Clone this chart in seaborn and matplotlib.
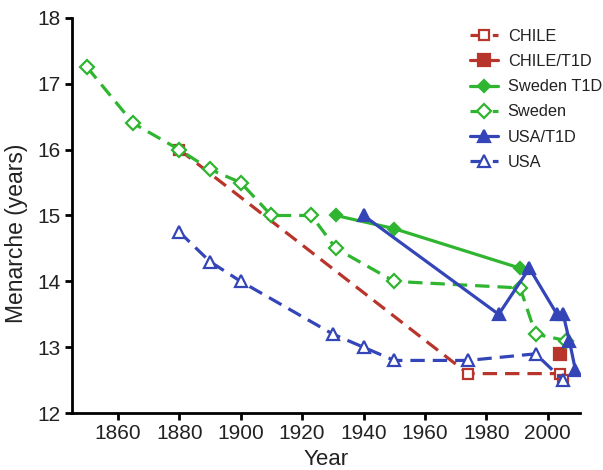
import matplotlib
matplotlib.use("Agg")
import matplotlib.pyplot as plt
import pandas as pd
import seaborn as sns

# data
chile_year = [1880, 1974, 2004, 2005]
chile_age = [16.0, 12.6, 12.6, 12.5]

chile_t1d_year = [2004]
chile_t1d_age = [12.9]

swe_t1d_year = [1931, 1950, 1991]
swe_t1d_age = [15.0, 14.8, 14.2]

swe_year = [1850, 1865, 1880, 1890, 1900, 1910, 1923, 1931, 1950, 1991, 1996, 2006]
swe_age = [17.25, 16.4, 16.0, 15.7, 15.5, 15.0, 15.0, 14.5, 14.0, 13.9, 13.2, 13.1]

usa_t1d_year = [1940, 1984, 1994, 2003, 2005, 2007, 2009]
usa_t1d_age = [15.0, 13.5, 14.2, 13.5, 13.5, 13.1, 12.65]

usa_year = [1880, 1890, 1900, 1930, 1940, 1950, 1974, 1996, 2005]
usa_age = [14.75, 14.3, 14.0, 13.2, 13.0, 12.8, 12.8, 12.9, 12.5]

red = "#b8352c"
green = "#2fb52f"
blue = "#3445b8"

sns.set_style("ticks")
plt.rcParams['font.family'] = ['Liberation Sans', 'DejaVu Sans']

fig = plt.figure(figsize=(6.03, 4.7), dpi=100)
ax = fig.add_axes([0.119, 0.121, 0.843, 0.841])

def draw(x, y, label, color, marker, ls, filled, ms):
    d = pd.DataFrame({"x": x, "y": y})
    sns.lineplot(data=d, x="x", y="y", ax=ax, color=color, linestyle=ls,
                 marker=marker, markersize=ms, linewidth=2.3,
                 markerfacecolor=color if filled else "white",
                 markeredgecolor=color, markeredgewidth=1.6,
                 estimator=None, sort=False, label=label,
                 dashes=False)
    if ls == "--":
        ax.lines[-1].set_dashes([4.5, 2.5])

draw(chile_year, chile_age, "CHILE", red, "s", "--", False, 7)
draw(chile_t1d_year, chile_t1d_age, "CHILE/T1D", red, "s", "-", True, 9)
draw(swe_t1d_year, swe_t1d_age, "Sweden T1D", green, "D", "-", True, 6)
draw(swe_year, swe_age, "Sweden", green, "D", "--", False, 7)
draw(usa_t1d_year, usa_t1d_age, "USA/T1D", blue, "^", "-", True, 9)
draw(usa_year, usa_age, "USA", blue, "^", "--", False, 9)

ax.set_xlim(1845, 2010.5)
ax.set_ylim(12, 18)
ax.set_xticks(range(1860, 2001, 20))
ax.set_yticks(range(12, 19))
ax.tick_params(axis="both", labelsize=15, width=2, length=5, pad=3,
               color="black", labelcolor="#222222")
for s in ["left", "bottom"]:
    ax.spines[s].set_linewidth(2)
    ax.spines[s].set_color("black")
sns.despine(ax=ax)

ax.set_xlabel("Year", fontsize=16, color="#222222")
ax.set_ylabel("Menarche (years)", fontsize=16.5, color="#222222")
ax.xaxis.set_label_coords(0.5, -0.092)
ax.yaxis.set_label_coords(-0.087, 0.455)

leg = ax.legend(loc="upper left", bbox_to_anchor=(470 / 603, 1 - 29 / 470),
                bbox_transform=fig.transFigure, frameon=False, fontsize=11.8,
                handlelength=1.7, labelspacing=0.62, handletextpad=0.6,
                borderpad=0, borderaxespad=0)
for t in leg.get_texts():
    t.set_color("#222222")

fig.savefig("out.png", dpi=100)
